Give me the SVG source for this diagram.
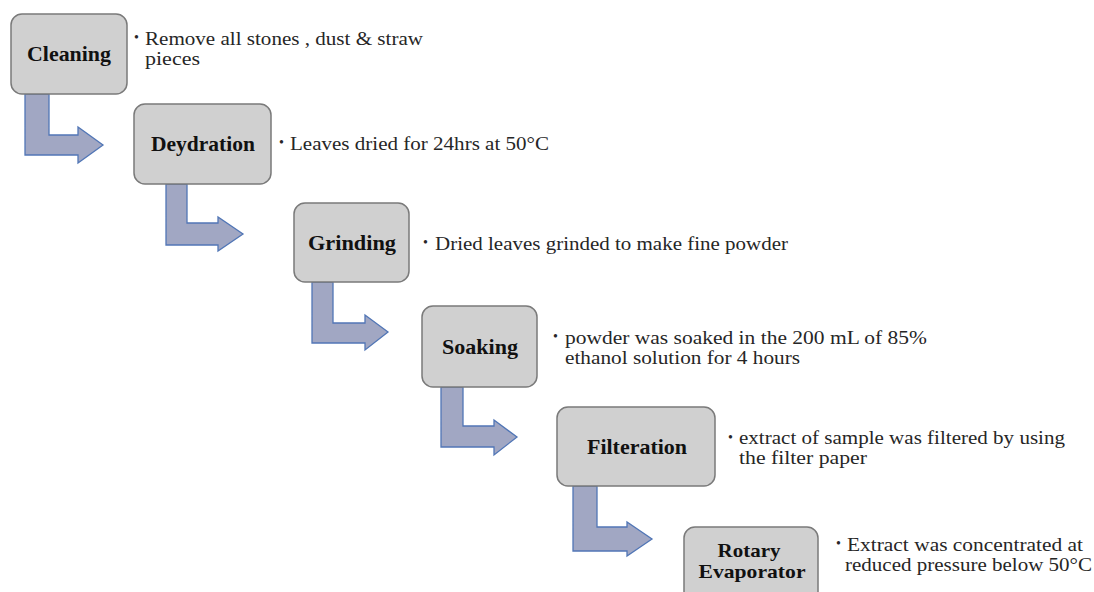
<svg xmlns="http://www.w3.org/2000/svg" width="1094" height="592" viewBox="0 0 1094 592">
<style>
.box{fill:#d0d0d0;stroke:#7a7a7a;stroke-width:1.5}
.lbl{font-family:"Liberation Serif",serif;font-weight:bold;font-size:21px;fill:#111;text-anchor:middle}
.lbs{font-family:"Liberation Serif",serif;font-weight:bold;font-size:19px;fill:#111;text-anchor:middle}
.txt{font-family:"Liberation Serif",serif;font-size:18.5px;fill:#262626}
.bul{font-family:"Liberation Serif",serif;font-size:14px;fill:#262626}
.arr{fill:#a1a7c3;stroke:#5176b6;stroke-width:1.3;stroke-linejoin:miter}
</style>
<rect width="1094" height="592" fill="#ffffff"/>
<g id="connectors">
<path class="arr" d="M25,94 H49 V135 H78 V127 L103,145 L78,163 V155 H25 Z"/>
<path class="arr" d="M166,184 H187 V223 H218 V217 L243,234 L218,251 V245 H166 Z"/>
<path class="arr" d="M312,282 H333 V323 H365 V315 L388,332 L365,350 V343 H312 Z"/>
<path class="arr" d="M441,387 H463 V426 H494 V420 L517,437 L494,455 V447 H441 Z"/>
<path class="arr" d="M573,486 H597 V527 H627 V522 L652,539 L627,556 V551 H573 Z"/>
</g>
<g id="cleaning">
<rect class="box" x="11" y="14" width="116" height="80" rx="11"/>
<text class="lbl" x="69" y="61" textLength="84" lengthAdjust="spacingAndGlyphs">Cleaning</text>
<text class="bul" x="134" y="42">•</text>
<text class="txt" x="145" y="45" textLength="278" lengthAdjust="spacingAndGlyphs">Remove all stones , dust &amp; straw</text>
<text class="txt" x="145" y="65" textLength="55" lengthAdjust="spacingAndGlyphs">pieces</text>
</g>
<g id="deydration">
<rect class="box" x="134" y="104" width="137" height="80" rx="11"/>
<text class="lbl" x="203" y="151" textLength="104" lengthAdjust="spacingAndGlyphs">Deydration</text>
<text class="bul" x="279" y="147">•</text>
<text class="txt" x="290" y="150" textLength="259" lengthAdjust="spacingAndGlyphs">Leaves dried for 24hrs at 50°C</text>
</g>
<g id="grinding">
<rect class="box" x="294" y="203" width="115" height="79" rx="11"/>
<text class="lbl" x="352" y="250" textLength="88" lengthAdjust="spacingAndGlyphs">Grinding</text>
<text class="bul" x="423" y="247">•</text>
<text class="txt" x="435" y="250" textLength="353" lengthAdjust="spacingAndGlyphs">Dried leaves grinded to make fine powder</text>
</g>
<g id="soaking">
<rect class="box" x="422" y="306" width="115" height="81" rx="11"/>
<text class="lbl" x="480" y="354" textLength="76" lengthAdjust="spacingAndGlyphs">Soaking</text>
<text class="bul" x="553" y="341">•</text>
<text class="txt" x="565" y="344" textLength="362" lengthAdjust="spacingAndGlyphs">powder was soaked in the 200 mL of 85%</text>
<text class="txt" x="565" y="364" textLength="235" lengthAdjust="spacingAndGlyphs">ethanol solution for 4 hours</text>
</g>
<g id="filteration">
<rect class="box" x="557" y="407" width="158" height="79" rx="11"/>
<text class="lbl" x="637" y="454" textLength="100" lengthAdjust="spacingAndGlyphs">Filteration</text>
<text class="bul" x="728" y="442">•</text>
<text class="txt" x="739" y="444" textLength="326" lengthAdjust="spacingAndGlyphs">extract of sample was filtered by using</text>
<text class="txt" x="739" y="464" textLength="128" lengthAdjust="spacingAndGlyphs">the filter paper</text>
</g>
<g id="rotary-evaporator">
<rect class="box" x="684" y="527" width="134" height="80" rx="11"/>
<text class="lbs" x="749" y="557" textLength="63" lengthAdjust="spacingAndGlyphs">Rotary</text>
<text class="lbs" x="752" y="578" textLength="107" lengthAdjust="spacingAndGlyphs">Evaporator</text>
<text class="bul" x="836" y="548">•</text>
<text class="txt" x="847" y="551" textLength="236" lengthAdjust="spacingAndGlyphs">Extract was concentrated at</text>
<text class="txt" x="845" y="571" textLength="247" lengthAdjust="spacingAndGlyphs">reduced pressure below 50°C</text>
</g>
</svg>
